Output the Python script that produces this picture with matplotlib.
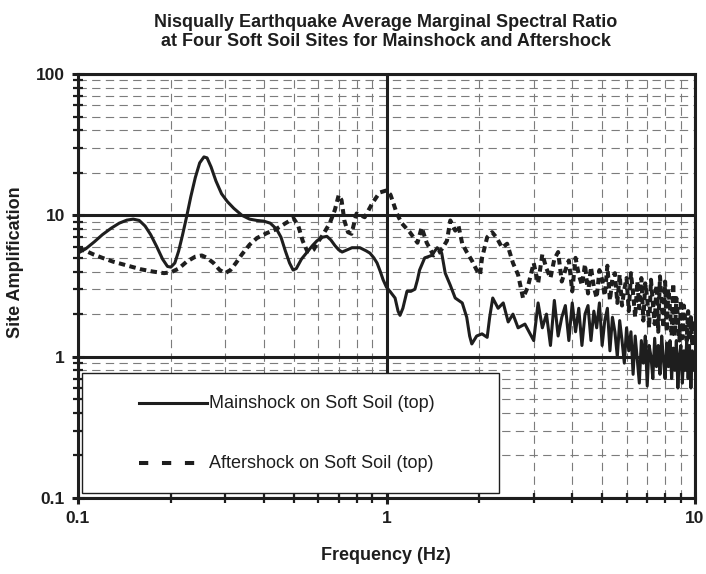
import numpy as np
import matplotlib
matplotlib.use('Agg')
import matplotlib.pyplot as plt
from matplotlib.lines import Line2D
from matplotlib.patches import Rectangle
from matplotlib.ticker import LogLocator, NullFormatter

# --- average marginal spectral ratio, soft soil sites ---
# low-frequency part (hand-picked points along the curves)
main_freq = [0.100, 0.106, 0.113, 0.120, 0.128, 0.136, 0.144, 0.151, 0.158, 0.165,
             0.172, 0.180, 0.188, 0.195, 0.200, 0.206, 0.212, 0.218, 0.225, 0.232,
             0.240, 0.248, 0.256, 0.262, 0.270, 0.280, 0.292, 0.305, 0.320, 0.340,
             0.360, 0.380, 0.400, 0.420, 0.440, 0.455, 0.470, 0.485, 0.498, 0.510,
             0.530, 0.553, 0.575, 0.595, 0.620, 0.641, 0.660, 0.681, 0.700, 0.718,
             0.745, 0.773, 0.820, 0.860, 0.884, 0.910, 0.932, 0.955, 0.975, 1.000,
             1.026, 1.066, 1.090, 1.106, 1.130, 1.165, 1.200, 1.236, 1.260, 1.280,
             1.330, 1.400, 1.460, 1.510, 1.550, 1.610, 1.670, 1.760, 1.820, 1.860,
             1.890, 1.960, 2.040, 2.120, 2.160, 2.210, 2.300, 2.390, 2.480, 2.570,
             2.670, 2.810]
main_amp = [5.4, 5.8, 6.5, 7.3, 8.1, 8.8, 9.25, 9.4, 9.2, 8.4,
            7.3, 6.0, 4.9, 4.35, 4.3, 4.6, 5.6, 7.2, 9.8, 13.5,
            18.5, 23.5, 25.9, 25.5, 22.0, 17.5, 14.2, 12.5, 11.2, 10.0,
            9.4, 9.2, 9.1, 8.8, 8.0, 7.0, 5.6, 4.6, 4.1, 4.2,
            4.9, 5.5, 6.1, 6.6, 7.0, 7.1, 6.7, 6.1, 5.7, 5.5,
            5.7, 5.9, 5.9, 5.6, 5.4, 5.0, 4.6, 4.0, 3.5, 3.1,
            2.9, 2.6, 2.1, 1.96, 2.2, 2.9, 2.9, 3.0, 3.5, 4.1,
            5.0, 5.2, 5.9, 5.4, 3.9, 3.2, 2.6, 2.4, 1.9, 1.4,
            1.23, 1.4, 1.45, 1.37, 1.9, 2.6, 2.2, 2.4, 1.76, 2.0,
            1.6, 1.7]

after_freq = [0.100, 0.106, 0.112, 0.120, 0.130, 0.145, 0.160, 0.175, 0.190, 0.200,
              0.212, 0.225, 0.240, 0.252, 0.262, 0.275, 0.288, 0.300, 0.312, 0.325,
              0.340, 0.360, 0.380, 0.410, 0.435, 0.455, 0.475, 0.500, 0.517, 0.535,
              0.553, 0.565, 0.580, 0.600, 0.620, 0.655, 0.680, 0.700, 0.715, 0.730,
              0.750, 0.770, 0.800, 0.850, 0.900, 0.950, 1.000, 1.030, 1.050, 1.080,
              1.120, 1.190, 1.260, 1.300, 1.350, 1.420, 1.490, 1.570, 1.610, 1.670,
              1.710, 1.760, 1.820, 1.890, 1.960, 2.010, 2.040, 2.120, 2.200, 2.280,
              2.370, 2.460, 2.570, 2.670, 2.770, 2.870]
after_amp = [5.8, 5.6, 5.3, 5.0, 4.7, 4.4, 4.15, 4.0, 3.9, 3.95,
             4.2, 4.7, 5.1, 5.2, 5.0, 4.6, 4.1, 3.9, 4.1, 4.6,
             5.3, 6.2, 6.9, 7.5, 7.9, 8.4, 8.9, 9.5, 8.5, 6.6,
             5.6, 5.5, 5.7, 6.5, 7.2, 8.8, 10.9, 13.9, 12.8, 9.2,
             7.6, 7.4, 10.3, 9.7, 12.2, 14.5, 15.0, 14.0, 12.4, 10.3,
             8.8, 7.6, 6.4, 8.2, 6.4, 5.2, 5.5, 6.6, 9.2, 7.8,
             8.5, 6.3, 5.5, 4.8, 4.1, 3.8, 5.0, 7.0, 7.6, 6.9,
             5.9, 6.3, 4.6, 3.8, 2.6, 3.1]

# high-frequency part, 0.1 Hz bins from 3 to 10 Hz
hf_freq = [3.0, 3.1, 3.2, 3.3, 3.4, 3.5, 3.6, 3.7, 3.8, 3.9,
           4.0, 4.1, 4.2, 4.3, 4.4, 4.5, 4.6, 4.7, 4.8, 4.9,
           5.0, 5.1, 5.2, 5.3, 5.4, 5.5, 5.6, 5.7, 5.8, 5.9,
           6.0, 6.1, 6.2, 6.3, 6.4, 6.5, 6.6, 6.7, 6.8, 6.9,
           7.0, 7.1, 7.2, 7.3, 7.4, 7.5, 7.6, 7.7, 7.8, 7.9,
           8.0, 8.1, 8.2, 8.3, 8.4, 8.5, 8.6, 8.7, 8.8, 8.9,
           9.0, 9.1, 9.2, 9.3, 9.4, 9.5, 9.6, 9.7, 9.8, 9.9, 10.0]
main_hf = [1.3, 2.4, 1.6, 2.0, 1.2, 2.5,
           1.4, 1.9, 2.3, 1.3, 2.4, 1.5, 2.2, 1.2, 2.0, 2.3,
           1.3, 2.1, 1.6, 2.4, 1.2, 1.8, 2.2, 1.1, 1.9, 1.5,
           1.0, 1.8, 1.3, 0.9, 1.6, 1.1, 1.5, 0.75, 1.4, 0.95,
           0.65, 1.3, 0.9, 1.4, 0.62, 1.2, 1.0, 0.7, 1.35, 0.85,
           1.2, 0.75, 1.4, 0.95, 0.7, 1.25, 0.85, 1.3, 0.7, 1.15,
           0.8, 1.3, 0.6, 1.0, 1.2, 0.65, 1.1, 0.8, 1.3, 0.7,
           1.2, 0.6, 1.1, 0.8, 1.0]
after_hf = [4.6, 3.3, 5.3, 4.2, 3.6, 4.9,
            5.5, 3.4, 4.1, 4.8, 2.9, 5.0, 3.8, 3.2, 4.5, 2.8,
            4.3, 3.1, 2.6, 4.1, 3.5, 2.7, 4.4, 2.5, 3.6, 3.9,
            2.4, 3.8, 2.3, 3.0, 3.6, 2.1, 3.9, 2.8, 1.9, 3.4,
            2.2, 3.6, 1.8, 3.3, 2.6, 1.6, 3.5, 2.4, 1.7, 3.2,
            1.5, 3.7, 2.3, 1.6, 3.4, 1.5, 3.0, 2.2, 1.4, 3.3,
            1.4, 2.6, 1.9, 1.3, 2.5, 1.35, 2.3, 1.8, 1.3, 2.1,
            1.3, 1.9, 1.2, 1.8, 1.5]

x_ticks = [0.1, 1, 10]
x_ticklabels = ['0.1', '1', '10']
y_ticks = [0.1, 1, 10, 100]
y_ticklabels = ['0.1', '1', '10', '100']
legend_labels = ['Mainshock on Soft Soil (top)', 'Aftershock on Soft Soil (top)']

title = ('Nisqually Earthquake Average Marginal Spectral Ratio\n'
         'at Four Soft Soil Sites for Mainshock and Aftershock')

plt.rcParams['font.family'] = ['Liberation Sans', 'DejaVu Sans']
ink = '#1e1e1e'
after_dash = (0, (1.6, 1.1))

W, H = 706, 574
fig = plt.figure(figsize=(W / 100, H / 100), dpi=100)
ax = fig.add_axes([78 / W, 1 - 498 / H, 617 / W, 424 / H])

ax.set_xscale('log')
ax.set_yscale('log')
ax.set_xlim(0.1, 10)
ax.set_ylim(0.1, 100)

# dashed grey minor grid, solid black decade lines
ax.xaxis.set_minor_locator(LogLocator(base=10, subs=np.arange(2, 10)))
ax.yaxis.set_minor_locator(LogLocator(base=10, subs=np.arange(2, 10)))
ax.xaxis.set_minor_formatter(NullFormatter())
ax.yaxis.set_minor_formatter(NullFormatter())
ax.grid(which='minor', color='#7c7c7c', lw=0.8, ls=(0, (7.5, 4.8)))
ax.grid(which='major', visible=False)
for t in x_ticks:
    ax.axvline(t, color=ink, lw=2.2, zorder=1.5)
for t in y_ticks:
    ax.axhline(t, color=ink, lw=2.2, zorder=1.5)
ax.set_axisbelow(True)

ax.plot(np.concatenate([main_freq, hf_freq]), np.concatenate([main_amp, main_hf]),
        color=ink, lw=2.2, solid_joinstyle='round', zorder=3)
ax.plot(np.concatenate([after_freq, hf_freq]), np.concatenate([after_amp, after_hf]),
        color=ink, lw=2.9, ls=after_dash, dash_capstyle='butt', zorder=3)

ax.set_xticks(x_ticks)
ax.set_xticklabels(x_ticklabels)
ax.set_yticks(y_ticks)
ax.set_yticklabels(y_ticklabels)
ax.tick_params(which='major', direction='inout', length=8, width=2.2,
               color=ink, labelsize=12.5, pad=5.5)
ax.tick_params(which='minor', direction='inout', length=7, width=1.6, color=ink)
for lab in ax.get_xticklabels() + ax.get_yticklabels():
    lab.set_fontweight('bold')
    lab.set_color(ink)
for sp in ax.spines.values():
    sp.set_linewidth(2.2)
    sp.set_color(ink)
    sp.set_zorder(4)

# legend box in the lower left corner
ax.add_patch(Rectangle((0.0065, 0.0118), 0.6755, 0.283, transform=ax.transAxes,
                       facecolor='white', edgecolor=ink, lw=1.0, zorder=5))
ax.add_line(Line2D([0.0989, 0.209], [0.224, 0.224], transform=ax.transAxes,
                   color=ink, lw=2.2, zorder=6))
ax.add_line(Line2D([0.0989, 0.209], [0.0825, 0.0825], transform=ax.transAxes,
                   color=ink, lw=2.9, ls=(0, (2.3, 3.4)), zorder=6))
ax.text(0.213, 0.224, legend_labels[0], transform=ax.transAxes, fontsize=13,
        va='center', ha='left', color=ink, zorder=6)
ax.text(0.213, 0.0825, legend_labels[1], transform=ax.transAxes, fontsize=13,
        va='center', ha='left', color=ink, zorder=6)

fig.text(386 / W, 1 - 32 / H, title, ha='center', va='center', fontsize=13,
         fontweight='bold', linespacing=1.15, color=ink)
fig.text(386 / W, 1 - 555 / H, 'Frequency (Hz)', ha='center', va='center',
         fontsize=13, fontweight='bold', color=ink)
fig.text(16 / W, 1 - 262 / H, 'Site Amplification', ha='center', va='center',
         rotation=90, fontsize=13, fontweight='bold', color=ink)

fig.savefig('out.png', dpi=100)
